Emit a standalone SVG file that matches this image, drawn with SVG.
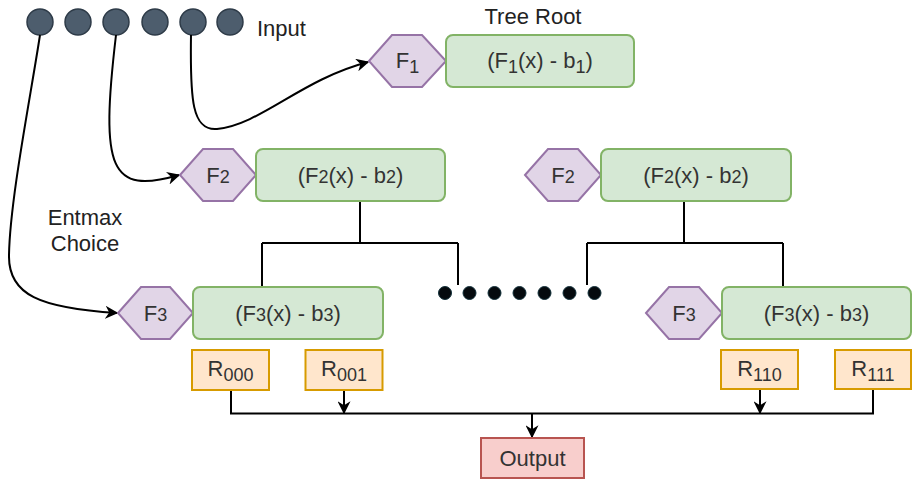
<svg xmlns="http://www.w3.org/2000/svg" width="912" height="482" viewBox="0 0 912 482">
  <style>
    text { font-family: "Liberation Sans", Arial, sans-serif; font-size: 22px; fill: #222; }
    .lbl { text-anchor: middle; fill: #333; }
    .sub { font-size: 18px; }
    .hex { fill: #e1d5e7; stroke: #9673a6; stroke-width: 2; }
    .split { fill: #d5e8d4; stroke: #82b366; stroke-width: 2; }
    .leaf { fill: #ffe6cc; stroke: #d79b00; stroke-width: 2; }
    .out { fill: #f8cecc; stroke: #b85450; stroke-width: 2; }
    .inp { fill: #4d5d6d; stroke: #2e3b48; stroke-width: 1.5; }
    .dot { fill: #050a0e; stroke: #12303a; stroke-width: 1; }
    .edge { fill: none; stroke: #000; stroke-width: 2; }
  </style>
  <defs>
    <marker id="arr" viewBox="0 0 10 10" refX="9" refY="5" markerWidth="6.5" markerHeight="6.5" orient="auto" markerUnits="strokeWidth">
      <path d="M0,0 L10,5 L0,10 L3,5 Z" fill="#000"/>
    </marker>
  </defs>

  <!-- Inputs -->
  <g id="inputs">
    <circle class="inp" cx="40" cy="22" r="13"/>
    <circle class="inp" cx="78" cy="22" r="13"/>
    <circle class="inp" cx="116" cy="22" r="13"/>
    <circle class="inp" cx="155" cy="22" r="13"/>
    <circle class="inp" cx="193" cy="22" r="13"/>
    <circle class="inp" cx="230" cy="22" r="13"/>
    <text x="257" y="36">Input</text>
  </g>

  <text x="533" y="24" class="lbl" style="fill:#222">Tree Root</text>
  <g id="entmax-label">
    <text x="85" y="225" class="lbl" style="fill:#222">Entmax</text>
    <text x="85" y="251" class="lbl" style="fill:#222">Choice</text>
  </g>

  <!-- Connectors -->
  <g id="connectors">
    <path class="edge" d="M191,35 C190,100 192,131 217,129 C262,124 300,80 368,62" marker-end="url(#arr)"/>
    <path class="edge" d="M116,35 C100,170 110,195 179,175" marker-end="url(#arr)"/>
    <path class="edge" d="M40,35 C30,100 10,200 9,255 C8,295 40,308 117,313" marker-end="url(#arr)"/>
    <path class="edge" d="M360,201 V243 M262,243 H458 M262,243 V287 M458,243 V285"/>
    <path class="edge" d="M684,201 V243 M587,243 H783 M587,243 V285 M783,243 V287"/>
    <path class="edge" d="M231,390 V413.5 H873 V389"/>
    <path class="edge" d="M344,390 V413" marker-end="url(#arr)"/>
    <path class="edge" d="M760,389 V413" marker-end="url(#arr)"/>
    <path class="edge" d="M532,413.5 V437" marker-end="url(#arr)"/>
  </g>

  <!-- Ellipsis dots -->
  <g id="ellipsis">
    <circle class="dot" cx="445" cy="293" r="6.5"/>
    <circle class="dot" cx="469.5" cy="293" r="6.5"/>
    <circle class="dot" cx="494.5" cy="293" r="6.5"/>
    <circle class="dot" cx="519.5" cy="293" r="6.5"/>
    <circle class="dot" cx="544.5" cy="293" r="6.5"/>
    <circle class="dot" cx="569.5" cy="293" r="6.5"/>
    <circle class="dot" cx="594.5" cy="293" r="6.5"/>
  </g>

  <!-- Root -->
  <g id="f1-hex">
    <polygon class="hex" points="369,61 392,35 422,35 446,61 422,87 392,87"/>
    <text x="407.5" y="68" class="lbl">F<tspan class="sub" dy="5">1</tspan></text>
  </g>
  <g id="f1-split">
    <rect class="split" x="446" y="35" width="188" height="52" rx="7"/>
    <text x="540" y="68" class="lbl">(F<tspan class="sub" dy="5">1</tspan><tspan dy="-5">(x) - b</tspan><tspan class="sub" dy="5">1</tspan><tspan dy="-5">)</tspan></text>
  </g>

  <!-- Level 2 left -->
  <g id="f2-hex-left">
    <polygon class="hex" points="180,175 203,149 233,149 256,175 233,201 203,201"/>
    <text x="218" y="183" class="lbl">F<tspan class="sub">2</tspan></text>
  </g>
  <g id="f2-split-left">
    <rect class="split" x="256" y="149" width="189" height="52" rx="7"/>
    <text x="350.5" y="183" class="lbl">(F<tspan class="sub">2</tspan>(x) - b<tspan class="sub">2</tspan>)</text>
  </g>

  <!-- Level 2 right -->
  <g id="f2-hex-right">
    <polygon class="hex" points="525,175 548,149 578,149 601,175 578,201 548,201"/>
    <text x="563" y="183" class="lbl">F<tspan class="sub">2</tspan></text>
  </g>
  <g id="f2-split-right">
    <rect class="split" x="601" y="149" width="190" height="52" rx="7"/>
    <text x="696" y="183" class="lbl">(F<tspan class="sub">2</tspan>(x) - b<tspan class="sub">2</tspan>)</text>
  </g>

  <!-- Level 3 left -->
  <g id="f3-hex-left">
    <polygon class="hex" points="118,313 141,287 170,287 193,313 170,339 141,339"/>
    <text x="155.5" y="321" class="lbl">F<tspan class="sub">3</tspan></text>
  </g>
  <g id="f3-split-left">
    <rect class="split" x="193" y="287" width="190" height="52" rx="7"/>
    <text x="288" y="321" class="lbl">(F<tspan class="sub">3</tspan>(x) - b<tspan class="sub">3</tspan>)</text>
  </g>

  <!-- Level 3 right -->
  <g id="f3-hex-right">
    <polygon class="hex" points="646,313 669,287 699,287 722,313 699,339 669,339"/>
    <text x="684" y="321" class="lbl">F<tspan class="sub">3</tspan></text>
  </g>
  <g id="f3-split-right">
    <rect class="split" x="722" y="287" width="189" height="52" rx="7"/>
    <text x="816.5" y="321" class="lbl">(F<tspan class="sub">3</tspan>(x) - b<tspan class="sub">3</tspan>)</text>
  </g>

  <!-- Leaves -->
  <g id="r000">
    <rect class="leaf" x="192" y="350" width="77" height="40"/>
    <text x="230.5" y="376" class="lbl">R<tspan class="sub" dy="5">000</tspan></text>
  </g>
  <g id="r001">
    <rect class="leaf" x="305.5" y="350" width="77" height="40"/>
    <text x="344" y="376" class="lbl">R<tspan class="sub" dy="5">001</tspan></text>
  </g>
  <g id="r110">
    <rect class="leaf" x="721" y="350" width="77" height="39"/>
    <text x="759.5" y="376" class="lbl">R<tspan class="sub" dy="5">110</tspan></text>
  </g>
  <g id="r111">
    <rect class="leaf" x="835" y="350" width="76" height="39"/>
    <text x="873" y="376" class="lbl">R<tspan class="sub" dy="5">111</tspan></text>
  </g>

  <!-- Output -->
  <g id="output">
    <rect class="out" x="481" y="438" width="103" height="40"/>
    <text x="532.5" y="466" class="lbl">Output</text>
  </g>
</svg>
